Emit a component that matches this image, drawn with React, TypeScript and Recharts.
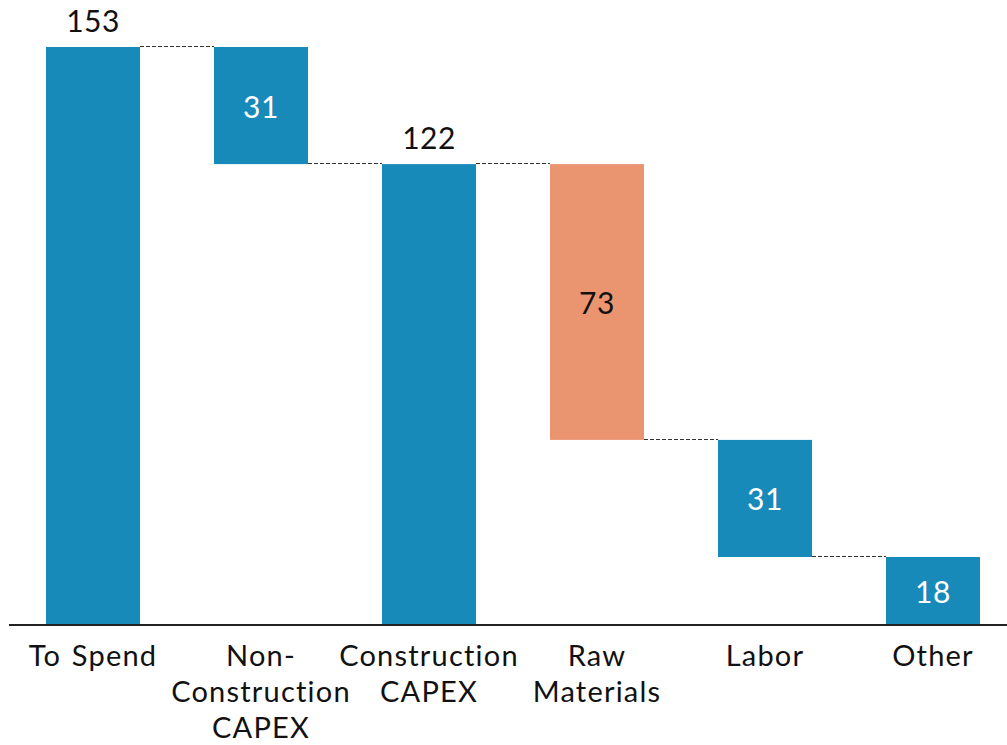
import React from "react";
import { BarChart, Bar, XAxis, YAxis, Cell, LabelList } from "recharts";

const categories = [
  "To Spend",
  "Non-Construction CAPEX",
  "Construction CAPEX",
  "Raw Materials",
  "Labor",
  "Other",
];
const tickLines = [
  ["To Spend"],
  ["Non-", "Construction", "CAPEX"],
  ["Construction", "CAPEX"],
  ["Raw", "Materials"],
  ["Labor"],
  ["Other"],
];
const lows = [0, 122, 0, 49, 18, 0];
const highs = [153, 153, 122, 122, 49, 18];
const shownValues = [153, 31, 122, 73, 31, 18];
const kinds = ["total", "decrease", "total", "decrease", "decrease", "total"];
const labelModes = ["top", "inside", "top", "inside", "inside", "inside"];

const data = categories.map((name, i) => ({
  name,
  range: [lows[i], highs[i]],
  shown: shownValues[i],
}));

const BLUE = "#178aba";
const ORANGE = "#ea9470";
const HIGHLIGHT = "Raw Materials";
const FONT = "Lato, 'Open Sans', sans-serif";

const CHART_W = 1030;
const CHART_H = 745;
const M = { top: 47, right: 13, left: 9, bottom: 0 };
const PLOT_W = CHART_W - M.left - M.right;
const BAR_SIZE = 94;
const BAND = PLOT_W / categories.length;
const GAP = BAND - BAR_SIZE;

const WaterfallShape = (props: any) => {
  const { x, y, width, height, fill, index } = props;
  const raw = kinds[index] === "total" ? y : y + height;
  const level = Math.round(raw) - 0.5;
  return (
    <g>
      <rect x={x} y={y} width={width} height={height} fill={fill} />
      {index < categories.length - 1 && (
        <line
          x1={x + width}
          x2={x + width + GAP}
          y1={level}
          y2={level}
          stroke="#333"
          strokeWidth={1}
          strokeDasharray="4 2"
        />
      )}
    </g>
  );
};

const ValueLabel = (props: any) => {
  const { x, y, width, height, index } = props;
  const cx = x + width / 2;
  const v = shownValues[index];
  if (labelModes[index] === "top") {
    return (
      <text x={cx} y={y - 15} textAnchor="middle" fill="#111" fontSize={30} fontFamily={FONT} letterSpacing={0.5}>
        {v}
      </text>
    );
  }
  const color = categories[index] === HIGHLIGHT ? "#111" : "#fff";
  return (
    <text
      x={cx}
      y={y + height / 2}
      textAnchor="middle"
      dominantBaseline="central"
      fill={color}
      fontSize={30}
      fontFamily={FONT}
      letterSpacing={0.5}
    >
      {v}
    </text>
  );
};

const Tick = (props: any) => {
  const { x, y, index } = props;
  const lines = tickLines[index] || [];
  return (
    <text
      x={x}
      y={y}
      textAnchor="middle"
      fill="#111"
      fontSize={29}
      fontFamily={FONT}
      letterSpacing={1.2}
      wordSpacing={2}
    >
      {lines.map((l, i) => (
        <tspan key={i} x={x} dy={i === 0 ? 33 : 36}>
          {l}
        </tspan>
      ))}
    </text>
  );
};

export default function App() {
  return (
    <div
      style={{
        position: "absolute",
        left: 0,
        top: 0,
        width: 1007,
        height: 745,
        overflow: "hidden",
        background: "#fff",
      }}
    >
      <BarChart width={CHART_W} height={CHART_H} data={data} margin={M} barSize={BAR_SIZE}>
        <XAxis
          dataKey="name"
          axisLine={{ stroke: "#222", strokeWidth: 2 }}
          tickLine={false}
          tick={<Tick />}
          height={120}
          interval={0}
        />
        <YAxis hide domain={[0, 153]} />
        <Bar dataKey="range" isAnimationActive={false} shape={<WaterfallShape />}>
          {data.map((d) => (
            <Cell key={d.name} fill={d.name === HIGHLIGHT ? ORANGE : BLUE} />
          ))}
          <LabelList dataKey="shown" content={<ValueLabel />} />
        </Bar>
      </BarChart>
    </div>
  );
}
